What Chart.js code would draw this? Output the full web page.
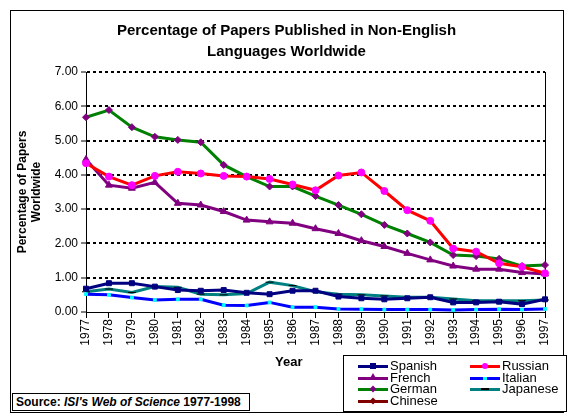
<!DOCTYPE html>
<html>
<head>
<meta charset="utf-8">
<script src="https://cdn.jsdelivr.net/npm/chart.js@4.4.0/dist/chart.umd.min.js"></script>
<style>
html, body { margin: 0; padding: 0; background: #fff; }
#wrap { position: relative; width: 573px; height: 420px; font-family: "Liberation Sans", Arial, sans-serif; color: #000; }
#chart { position: absolute; left: 0; top: 0; }
#frame { position: absolute; left: 10px; top: 10px; width: 552px; height: 401px; border: 1px solid #000; pointer-events: none; }
#title { position: absolute; left: 10px; width: 553px; top: 19px; text-align: center; font-weight: bold; font-size: 15px; line-height: 21px; }
#year { position: absolute; left: 275px; top: 354px; font-weight: bold; font-size: 13px; }
#source { position: absolute; left: 12px; top: 393px; width: 233px; height: 16px; border: 1px solid #000; font-weight: bold; font-size: 12px; line-height: 16px; padding-left: 3px; background: #fff; }
#legend { position: absolute; left: 343px; top: 355px; width: 222px; height: 55px; border: 1px solid #000; background: #fff; }
.item { position: absolute; height: 12px; font-size: 13px; line-height: 12px; white-space: nowrap; }
.sample { position: absolute; left: 0; top: 5px; width: 30px; height: 3px; }
.mark { position: absolute; top: 3px; left: 12px; width: 6px; height: 6px; }
.label { position: absolute; left: 32px; top: 0; }
</style>
</head>
<body>
<div id="wrap">
  <canvas id="chart" width="573" height="420"></canvas>
  <div id="frame"></div>
  <div id="title">Percentage of Papers Published in Non-English<br>Languages Worldwide</div>
  <div id="year">Year</div>
  <div id="source">Source: <i>ISI's Web of Science</i> 1977-1998</div>
  <div id="legend"></div>
</div>
<script>
// years on the x axis
const years = ['1977','1978','1979','1980','1981','1982','1983','1984','1985','1986','1987',
               '1988','1989','1990','1991','1992','1993','1994','1995','1996','1997'];

// percentage of papers per language
const spanish  = [0.68,0.84,0.84,0.74,0.64,0.62,0.64,0.56,0.52,0.62,0.62,0.45,0.40,0.37,0.40,0.43,0.28,0.28,0.30,0.23,0.37];
const russian  = [4.34,3.95,3.70,3.97,4.09,4.04,3.97,3.95,3.88,3.72,3.55,3.98,4.07,3.53,2.97,2.66,1.85,1.76,1.42,1.32,1.13];
const french   = [4.45,3.70,3.61,3.78,3.17,3.12,2.93,2.68,2.63,2.59,2.43,2.29,2.08,1.91,1.71,1.52,1.34,1.25,1.25,1.15,1.11];
const italian  = [0.52,0.50,0.42,0.35,0.37,0.37,0.20,0.19,0.28,0.14,0.14,0.09,0.08,0.07,0.07,0.07,0.06,0.07,0.08,0.07,0.09];
const german   = [5.68,5.89,5.39,5.11,5.02,4.95,4.29,3.95,3.66,3.66,3.38,3.12,2.85,2.54,2.29,2.03,1.66,1.63,1.55,1.34,1.37];
const japanese = [0.59,0.67,0.57,0.74,0.72,0.52,0.50,0.54,0.87,0.77,0.59,0.52,0.50,0.47,0.43,0.43,0.38,0.33,0.33,0.33,0.35];
const chinese  = [];

const yTicks = [0, 1, 2, 3, 4, 5, 6, 7];

const fam = '"Liberation Sans", Arial, sans-serif';

function serie(label, data, color, markColor, style, radius) {
   return {
      label: label,
      data: data,
      borderColor: color,
      backgroundColor: markColor,
      pointBackgroundColor: markColor,
      pointBorderColor: markColor,
      pointStyle: style,
      pointRadius: radius,
      pointBorderWidth: 1,
      borderWidth: 3,
      tension: 0
   };
}

const datasets = [
   serie('Spanish', spanish, '#000080', '#000080', 'rect', 3.5),
   serie('Russian', russian, '#ff0000', '#ff00ff', 'circle', 3.5),
   serie('French', french, '#800080', '#800080', 'triangle', 4),
   serie('Italian', italian, '#0000ff', '#00ffff', 'rect', 2),
   serie('German', german, '#008000', '#800080', 'rectRot', 3.5),
   serie('Japanese', japanese, '#008080', '#000000', 'line', 4),
   serie('Chinese', chinese, '#800000', '#800000', 'star', 4)
];

const chart = new Chart(document.getElementById('chart'), {
   type: 'line',
   data: { labels: years, datasets: datasets },
   options: {
      responsive: false,
      animation: false,
      layout: { padding: { left: 10, top: 72, right: 28, bottom: 0 } },
      plugins: {
         legend: { display: false },
         tooltip: { enabled: false },
         title: { display: false }
      },
      scales: {
         x: {
            offset: false,
            grid: { display: true, drawOnChartArea: false, drawTicks: true, tickLength: 6, color: '#000', tickColor: '#000' },
            border: { display: true, color: '#000', width: 1 },
            ticks: { color: '#000', font: { family: fam, size: 12 }, minRotation: 90, maxRotation: 90, autoSkip: false, padding: 1 },
            afterFit: s => { s.height = 108; }
         },
         y: {
            min: 0,
            max: 7,
            afterBuildTicks: s => { s.ticks = yTicks.map(v => ({ value: v })); },
            ticks: { color: '#000', font: { family: fam, size: 12 }, padding: 3, callback: v => v.toFixed(2) },
            grid: {
               color: c => (c.tick && c.tick.value === 0) ? 'rgba(0,0,0,0)' : '#000',
               lineWidth: 2,
               tickLength: 5,
               tickColor: '#000',
               tickWidth: 1,
               tickBorderDash: [1, 0]
            },
            border: { display: true, color: '#000', width: 1, dash: [3, 3] },
            title: {
               display: true,
               text: ['Percentage of Papers', 'Worldwide'],
               color: '#000',
               font: { family: fam, size: 12, weight: 'bold' },
               padding: { top: 5, bottom: 0 }
            },
            afterFit: s => { s.width = 76; }
         },
         y2: {
            position: 'right',
            min: 0,
            max: 7,
            ticks: { display: false },
            grid: { display: false, drawTicks: false },
            border: { display: true, color: '#000', width: 1 },
            afterFit: s => { s.width = 0; }
         }
      }
   }
});

// legend in its box, two columns, built from the datasets
const legend = document.getElementById('legend');
chart.data.datasets.forEach((ds, i) => {
   const item = document.createElement('div');
   item.className = 'item';
   item.style.left = (i % 2 === 0 ? 14 : 126) + 'px';
   item.style.top = (4 + Math.floor(i / 2) * 11.5) + 'px';

   const sample = document.createElement('div');
   sample.className = 'sample';
   sample.style.background = ds.borderColor;

   const mark = document.createElement('div');
   mark.className = 'mark';
   mark.style.background = ds.pointBackgroundColor;
   if (ds.pointStyle === 'circle') mark.style.borderRadius = '50%';
   if (ds.pointStyle === 'rectRot' || ds.pointStyle === 'star') mark.style.transform = 'rotate(45deg) scale(0.8)';
   if (ds.pointStyle === 'line') { mark.style.height = '2px'; mark.style.top = '5px'; mark.style.width = '8px'; mark.style.left = '11px'; }
   if (ds.pointStyle === 'triangle') {
      mark.style.background = 'transparent';
      mark.style.width = '0'; mark.style.height = '0';
      mark.style.borderLeft = '4px solid transparent';
      mark.style.borderRight = '4px solid transparent';
      mark.style.borderBottom = '7px solid ' + ds.pointBackgroundColor;
      mark.style.top = '1px'; mark.style.left = '11px';
   }
   if (ds.label === 'Italian') { mark.style.width = '4px'; mark.style.height = '3px'; mark.style.top = '5px'; mark.style.left = '13px'; }

   const label = document.createElement('div');
   label.className = 'label';
   label.textContent = ds.label;

   item.appendChild(sample);
   item.appendChild(mark);
   item.appendChild(label);
   legend.appendChild(item);
});
</script>
</body>
</html>
